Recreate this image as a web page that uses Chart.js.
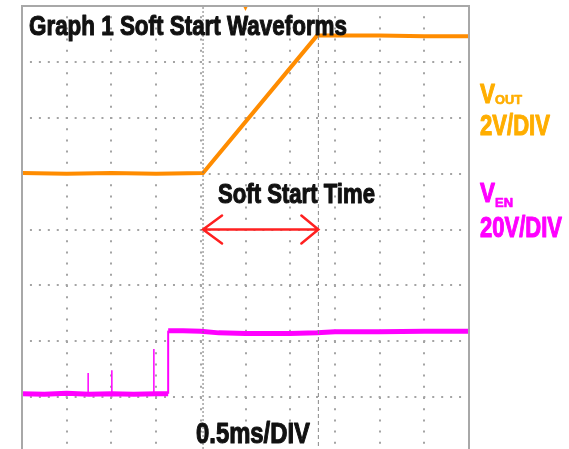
<!DOCTYPE html>
<html>
<head>
<meta charset="utf-8">
<script src="https://cdn.jsdelivr.net/npm/chart.js@4.4.1/dist/chart.umd.min.js"></script>
<style>
  html, body { margin: 0; padding: 0; background: #fff; overflow: hidden; }
  canvas { display: block; }
</style>
</head>
<body>
<canvas id="scope" width="569" height="460"></canvas>
<script>
"use strict";

// values are in scope divisions: x = 0..10 (0.5ms/DIV), y = 0..8 (bottom = 0)

// V_OUT (2V/DIV)
const voutTime  = [0, 1, 2, 3, 4.05, 6.6, 7, 8, 9, 10];
const voutLevel = [5.01, 5.0, 5.01, 5.0, 5.01, 7.47, 7.47, 7.47, 7.46, 7.46];

// V_EN (20V/DIV)
const venTime  = [0, 0.5, 1, 1.5, 2, 2.5, 3, 3.27, 3.27, 3.6, 4.0, 4.4, 5, 6, 6.6, 7, 8, 9, 10];
const venLevel = [1.06, 1.05, 1.07, 1.05, 1.06, 1.05, 1.06, 1.06, 2.19, 2.19, 2.18, 2.15, 2.14, 2.14, 2.15, 2.17, 2.17, 2.18, 2.18];

// glitches on V_EN before the enable step
const spikeTime = [1.48, 2.01, 2.95];
const spikeTop  = [1.43, 1.48, 1.86];

// cursors that mark the soft start time
const cursorTime = [4.05, 6.63];
const arrowLevel = 4;

const divX = [0, 10];
const divY = [0, 8];

const ORANGE = "#ff8c00";
const MAGENTA = "#ff00ff";

function toPoints(xs, ys) {
    return xs.map((x, i) => ({ x: x, y: ys[i] }));
}

let spikePoints = [];
spikeTime.forEach((t, i) => {
    spikePoints.push({ x: t, y: venLevel[0] }, { x: t, y: spikeTop[i] }, { x: t, y: null });
});

// draws text squeezed to a given width (the scope font is condensed and heavy)
function fitText(ctx, text, x, y, size, width, color) {
    ctx.save();
    ctx.font = "bold " + size + "px 'Liberation Sans', Arial, sans-serif";
    ctx.fillStyle = color;
    ctx.strokeStyle = color;
    ctx.lineWidth = size > 20 ? 1.1 : 0.6;
    ctx.lineJoin = "round";
    ctx.textBaseline = "alphabetic";
    ctx.textAlign = "left";
    const w = ctx.measureText(text).width;
    ctx.translate(x, y);
    ctx.scale(width / w, 1);
    ctx.fillText(text, 0, 0);
    ctx.strokeText(text, 0, 0);
    ctx.restore();
}

const scopeDecor = {
    id: "scopeDecor",
    afterDatasetsDraw(chart) {
        const ctx = chart.ctx;
        const a = chart.chartArea;
        const xs = chart.scales.x, ys = chart.scales.y;

        // frame
        ctx.save();
        ctx.strokeStyle = "#a8a8a8";
        ctx.lineWidth = 2;
        ctx.beginPath();
        ctx.moveTo(a.left, a.bottom);
        ctx.lineTo(a.left, a.top);
        ctx.lineTo(a.right, a.top);
        ctx.lineTo(a.right, a.bottom);
        ctx.stroke();

        // trigger mark
        const tx = xs.getPixelForValue(5);
        ctx.fillStyle = ORANGE;
        ctx.beginPath();
        ctx.moveTo(tx - 2, a.top + 1);
        ctx.lineTo(tx + 2, a.top + 1);
        ctx.lineTo(tx, a.top + 5);
        ctx.fill();

        // soft start arrow
        const x1 = xs.getPixelForValue(cursorTime[0]);
        const x2 = xs.getPixelForValue(cursorTime[1]);
        const ay = ys.getPixelForValue(arrowLevel);
        ctx.strokeStyle = "#ff2020";
        ctx.lineWidth = 2.5;
        ctx.lineCap = "round";
        ctx.beginPath();
        ctx.moveTo(x1, ay);
        ctx.lineTo(x2, ay);
        ctx.moveTo(x1 + 19, ay - 14);
        ctx.lineTo(x1, ay);
        ctx.lineTo(x1 + 19, ay + 14);
        ctx.moveTo(x2 - 17, ay - 14);
        ctx.lineTo(x2, ay);
        ctx.lineTo(x2 - 17, ay + 14);
        ctx.stroke();
        ctx.restore();

        // text
        fitText(ctx, "Graph 1 Soft Start Waveforms", 29, 35, 28, 318, "#111");
        fitText(ctx, "Soft Start Time", 218, 203, 28, 157, "#111");
        fitText(ctx, "0.5ms/DIV", 196, 443, 29, 114, "#111");

        fitText(ctx, "V", 480, 103, 28, 15, "#ffae00");
        fitText(ctx, "OUT", 495, 104, 12, 27, "#ffae00");
        fitText(ctx, "2V/DIV", 480, 135, 30, 70, "#ffae00");

        fitText(ctx, "V", 480, 202, 28, 15, MAGENTA);
        fitText(ctx, "EN", 495, 207, 12, 18, MAGENTA);
        fitText(ctx, "20V/DIV", 480, 237, 30, 82, MAGENTA);
    }
};

new Chart(document.getElementById("scope"), {
    type: "line",
    data: {
        datasets: [
            {
                label: "cursor 1",
                data: [{ x: cursorTime[0], y: divY[0] }, { x: cursorTime[0], y: divY[1] }],
                borderColor: "#777",
                borderWidth: 1,
                borderDash: [2, 2],
                pointRadius: 0
            },
            {
                label: "cursor 2",
                data: [{ x: cursorTime[1], y: divY[0] }, { x: cursorTime[1], y: divY[1] }],
                borderColor: "#888",
                borderWidth: 1,
                borderDash: [4, 3],
                pointRadius: 0
            },
            {
                label: "V_EN spikes",
                data: spikePoints,
                borderColor: MAGENTA,
                borderWidth: 1.5,
                pointRadius: 0,
                spanGaps: false
            },
            {
                label: "V_EN",
                data: toPoints(venTime, venLevel),
                borderColor: MAGENTA,
                borderWidth: 5,
                pointRadius: 0,
                segment: {
                    // the enable edge is a thin vertical stroke
                    borderWidth: c => c.p0.parsed.x === c.p1.parsed.x ? 2 : 5
                }
            },
            {
                label: "V_OUT",
                data: toPoints(voutTime, voutLevel),
                borderColor: ORANGE,
                borderWidth: 4,
                pointRadius: 0
            }
        ]
    },
    options: {
        responsive: false,
        animation: false,
        layout: { padding: { left: 22, right: 100, top: 6, bottom: 7 } },
        plugins: {
            legend: { display: false },
            tooltip: { enabled: false }
        },
        scales: {
            x: {
                type: "linear",
                min: divX[0],
                max: divX[1],
                ticks: { stepSize: 1, display: false },
                grid: { color: "#a4a4a4", lineWidth: 2, drawTicks: false },
                border: { display: false, dash: [2, 9.2], dashOffset: 1 }
            },
            y: {
                type: "linear",
                min: divY[0],
                max: divY[1],
                ticks: { stepSize: 1, display: false },
                grid: { color: "#a4a4a4", lineWidth: 2, drawTicks: false },
                border: { display: false, dash: [2, 6.94], dashOffset: 1 }
            }
        }
    },
    plugins: [scopeDecor]
});
</script>
</body>
</html>
